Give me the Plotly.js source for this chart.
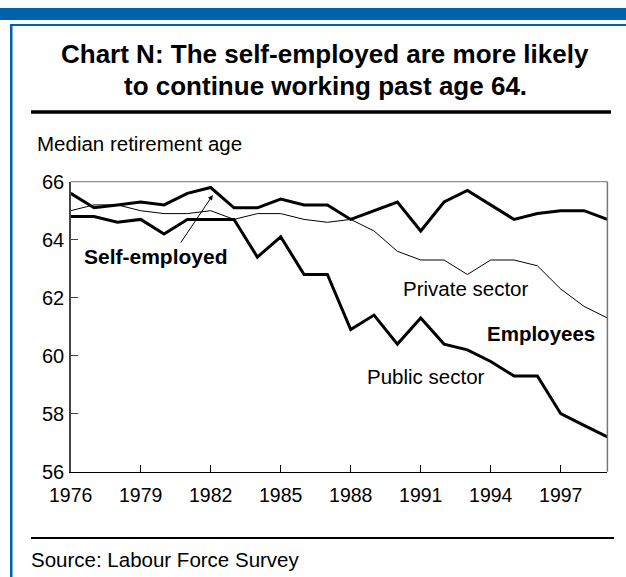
<!DOCTYPE html>
<html>
<head>
<meta charset="utf-8">
<script src="https://cdn.plot.ly/plotly-3.0.1.min.js"></script>
<style>
html,body{margin:0;padding:0;background:#fff;}
#chart{width:626px;height:577px;}
</style>
</head>
<body>
<div id="chart"></div>
<script>
var years = [1976,1977,1978,1979,1980,1981,1982,1983,1984,1985,1986,1987,1988,1989,1990,1991,1992,1993,1994,1995,1996,1997,1998,1999];
var selfEmployed = [65.6,65.1,65.2,65.3,65.2,65.6,65.8,65.1,65.1,65.4,65.2,65.2,64.7,65.0,65.3,64.3,65.3,65.7,65.2,64.7,64.9,65.0,65.0,64.7];
var privateSector = [65.0,65.2,65.2,65.0,64.9,64.9,65.0,64.7,64.9,64.9,64.7,64.6,64.7,64.3,63.6,63.3,63.3,62.8,63.3,63.3,63.1,62.3,61.7,61.3];
var publicSector = [64.8,64.8,64.6,64.7,64.2,64.7,64.7,64.7,63.4,64.1,62.8,62.8,60.9,61.4,60.4,61.3,60.4,60.2,59.8,59.3,59.3,58.0,57.6,57.2];
var xTicks = [1976,1979,1982,1985,1988,1991,1994,1997];
var yTicks = [56,58,60,62,64,66];

var W = 626, H = 577;
function px(x){return x/W;}
function py(y){return 1 - y/H;}
var FONT = 'Liberation Sans, Arial, sans-serif';

var traces = [
  {x: years, y: privateSector, type:'scatter', mode:'lines', line:{color:'#000', width:1}, hoverinfo:'skip'},
  {x: years, y: publicSector, type:'scatter', mode:'lines', line:{color:'#000', width:3}, hoverinfo:'skip'},
  {x: years, y: selfEmployed, type:'scatter', mode:'lines', line:{color:'#000', width:3}, hoverinfo:'skip'}
];

var plotL = 70.7, plotR = 607.4, plotT = 181.7, plotB = 471.7;

var layout = {
  width: W, height: H,
  margin: {l:0, r:0, t:0, b:0},
  paper_bgcolor: '#fff', plot_bgcolor: '#fff',
  showlegend: false,
  font: {family: FONT, color:'#000', size:20},
  xaxis: {
    domain: [px(plotL), px(plotR)],
    range: [1976, 1999],
    tickvals: xTicks, ticktext: xTicks.map(String),
    ticks: 'inside', ticklen: 7, tickwidth: 1, tickcolor: '#000',
    showline: true, linecolor: '#000', linewidth: 1.5,
    showgrid: false, zeroline: false,
    tickfont: {family: FONT, size: 19.5, color:'#000'},
    ticklabelstandoff: 5,
    fixedrange: true
  },
  yaxis: {
    domain: [py(plotB), py(plotT)],
    range: [56, 66],
    tickvals: yTicks, ticktext: yTicks.map(String),
    ticks: 'inside', ticklen: 7, tickwidth: 1, tickcolor: '#444',
    showline: true, linecolor: '#444', linewidth: 1.5,
    showgrid: false, zeroline: false,
    tickfont: {family: FONT, size: 20, color:'#000'},
    ticklabelstandoff: 1,
    fixedrange: true
  },
  shapes: [
    {type:'rect', xref:'paper', yref:'paper', x0:0, x1:1, y0:py(20), y1:py(8), fillcolor:'#0062AC', line:{width:0}},
    {type:'rect', xref:'paper', yref:'paper', x0:px(10), x1:1, y0:py(26), y1:py(24), fillcolor:'#0062AC', line:{width:0}},
    {type:'rect', xref:'paper', yref:'paper', x0:px(10), x1:px(12.5), y0:0, y1:py(24), fillcolor:'#0062AC', line:{width:0}},
    {type:'line', xref:'paper', yref:'paper', x0:px(31), x1:px(611), y0:py(112), y1:py(112), line:{color:'#000', width:3.5}},
    {type:'line', xref:'paper', yref:'paper', x0:px(31), x1:px(614), y0:py(538), y1:py(538), line:{color:'#000', width:2}},
    {type:'line', xref:'paper', yref:'paper', x0:px(plotL), x1:px(plotR), y0:py(plotT), y1:py(plotT), line:{color:'#777', width:1}},
    {type:'line', xref:'paper', yref:'paper', x0:px(plotR), x1:px(plotR), y0:py(plotT), y1:py(plotB), line:{color:'#777', width:1.5}}
  ],
  annotations: [
    {xref:'paper', yref:'paper', x:px(325), y:py(54), text:'<b>Chart N: The self-employed are more likely</b>', showarrow:false, xanchor:'center', yanchor:'middle', font:{family:FONT, size:26, color:'#000'}},
    {xref:'paper', yref:'paper', x:px(325), y:py(86), text:'<b>to continue working past age 64.</b>', showarrow:false, xanchor:'center', yanchor:'middle', font:{family:FONT, size:26, color:'#000'}},
    {xref:'paper', yref:'paper', x:px(35), y:py(143), text:'Median retirement age', showarrow:false, xanchor:'left', yanchor:'middle', font:{family:FONT, size:20.5, color:'#000'}},
    {xref:'paper', yref:'paper', x:px(29), y:py(559), text:'Source: Labour Force Survey', showarrow:false, xanchor:'left', yanchor:'middle', font:{family:FONT, size:20.5, color:'#000'}},
    {xref:'paper', yref:'paper', x:px(156), y:py(256), text:'<b>Self-employed</b>', showarrow:false, xanchor:'center', yanchor:'middle', font:{family:FONT, size:21, color:'#000'}},
    {xref:'x', yref:'y', x:1982.09, y:65.54, text:'', showarrow:true, arrowhead:2, arrowsize:1, arrowwidth:1, arrowcolor:'#000', axref:'pixel', ayref:'pixel', ax:-33, ay:49, standoff:0},
    {xref:'paper', yref:'paper', x:px(401), y:py(288), text:'Private sector', showarrow:false, xanchor:'left', yanchor:'middle', font:{family:FONT, size:20.5, color:'#000'}},
    {xref:'paper', yref:'paper', x:px(485), y:py(333), text:'<b>Employees</b>', showarrow:false, xanchor:'left', yanchor:'middle', font:{family:FONT, size:20.5, color:'#000'}},
    {xref:'paper', yref:'paper', x:px(365), y:py(376), text:'Public sector', showarrow:false, xanchor:'left', yanchor:'middle', font:{family:FONT, size:20.5, color:'#000'}}
  ]
};

Plotly.newPlot('chart', traces, layout, {staticPlot:true, displayModeBar:false});
</script>
</body>
</html>
